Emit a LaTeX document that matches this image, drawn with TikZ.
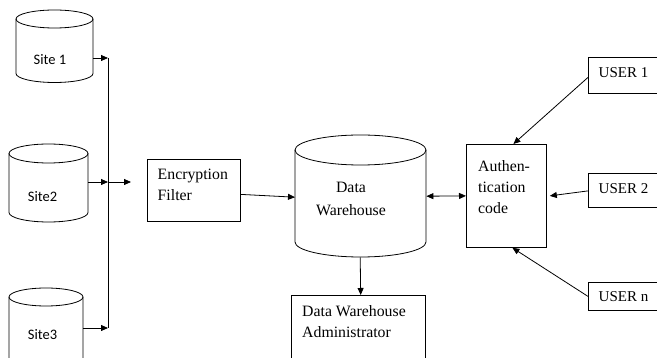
\documentclass[tikz,border=0pt]{standalone}
\usepackage{fontspec}
\setmainfont{Liberation Serif}
\newfontfamily\calib{Carlito}
\usetikzlibrary{arrows.meta}
\tikzset{
  ln/.style={line width=0.8pt},
  arr/.style={ln,-{Triangle[length=7pt,width=6pt]}},
  darr/.style={ln,{Triangle[length=7pt,width=6pt]}-{Triangle[length=7pt,width=6pt]}},
  boxn/.style={draw,ln,inner sep=0pt,anchor=north west},
  ghost/.style={inner sep=0pt,anchor=north west},
  sitelbl/.style={font=\calib\fontsize{14.5}{17}\selectfont,inner sep=0pt},
  txt/.style={font=\fontsize{15.8}{21}\selectfont,inner sep=0pt,align=left},
  usr/.style={font=\fontsize{15}{18}\selectfont,inner sep=0pt,anchor=west},
}
\newcommand{\mycyl}[5]{% xl, xr, ytop center, ybottom center, ry
  \draw[ln,fill=white] (#1,#3) -- (#1,#4) arc[start angle=180,end angle=360,x radius={(#2-#1)/2*1pt},y radius=#5pt] -- (#2,#3);
  \draw[ln] ({(#1+#2)/2},#3) ellipse[x radius={(#2-#1)/2*1pt},y radius=#5pt];
}
\begin{document}
\begin{tikzpicture}[x=1pt,y=-1pt]
\useasboundingbox (0,0) rectangle (657,358);
\clip (0,0) rectangle (657,358);

% cylinders
\mycyl{16}{93}{19}{73.5}{9}
\mycyl{9}{88}{153.5}{212.5}{9.5}
\mycyl{9}{83}{297}{380}{9}
\mycyl{295}{426}{150}{242}{15}

% ghost nodes for cylinders
\node[ghost,minimum width=77pt,minimum height=73pt] (site1) at (16,10) {};
\node[ghost,minimum width=79pt,minimum height=78pt] (site2) at (9,144) {};
\node[ghost,minimum width=74pt,minimum height=80pt] (site3) at (9,288) {};
\node[ghost,minimum width=131pt,minimum height=122pt] (dw) at (295,135) {};

% cylinder labels
\node[sitelbl] (l1) at (50,60) {Site 1};
\node[sitelbl] (l2) at (42.5,197) {Site2};
\node[sitelbl] (l3) at (42.5,335) {Site3};
\node[txt,align=center] (ldw) at (351,198.5) {Data\\[2pt]Warehouse};

% boxes
\node[boxn,minimum width=93pt,minimum height=62pt] (enc) at (147,159) {};
\node[txt,anchor=west] (lenc) at (157.5,184.5) {Encryption\\Filter};

\node[boxn,minimum width=134pt,minimum height=70pt] (dwa) at (291,295) {};
\node[txt,anchor=west] (ldwa) at (302,321.5) {Data Warehouse\\Administrator};

\node[boxn,minimum width=80pt,minimum height=103pt] (auth) at (466,144) {};
\node[txt,anchor=west] (lauth) at (478,187) {Authen-\\tication\\code};

\node[boxn,minimum width=80pt,minimum height=36pt] (u1) at (588,57) {};
\node[usr] (lu1) at (598.5,73) {USER 1};
\node[boxn,minimum width=80pt,minimum height=34pt] (u2) at (588,173) {};
\node[usr] (lu2) at (598.5,189) {USER 2};
\node[boxn,minimum width=80pt,minimum height=28pt] (un) at (588,282) {};
\node[usr] (lun) at (598.5,297) {USER n};

% bus
\coordinate (b1) at (108,58);
\coordinate (b2) at (108,182);
\coordinate (b3) at (108,328);
\coordinate (bo) at (131,182);
\draw[ln] (b1) -- (b3);
\draw[arr] (site1.east |- b1) -- (b1);
\draw[arr] (site2.east |- b2) -- (b2);
\draw[arr] (site3.east |- b3) -- (b3);
\draw[arr] (b2) -- (bo);

% main flow
\draw[arr] ([yshift=-4pt]enc.east) -- ([yshift=-1pt]dw.west);
\draw[darr] ([yshift=0pt]dw.east) -- ([yshift=0pt]auth.west);
\draw[arr] ([xshift=-0.5pt]dw.south) -- (dw.south |- dwa.north);

% users
\draw[arr] ([yshift=-2pt]u1.west) -- ([xshift=7pt]auth.north);
\draw[arr] ([yshift=-0.5pt]u2.west) -- ([xshift=3pt]auth.east);
\draw[arr] (un.west) -- ([xshift=6pt]auth.south);
\end{tikzpicture}
\end{document}
